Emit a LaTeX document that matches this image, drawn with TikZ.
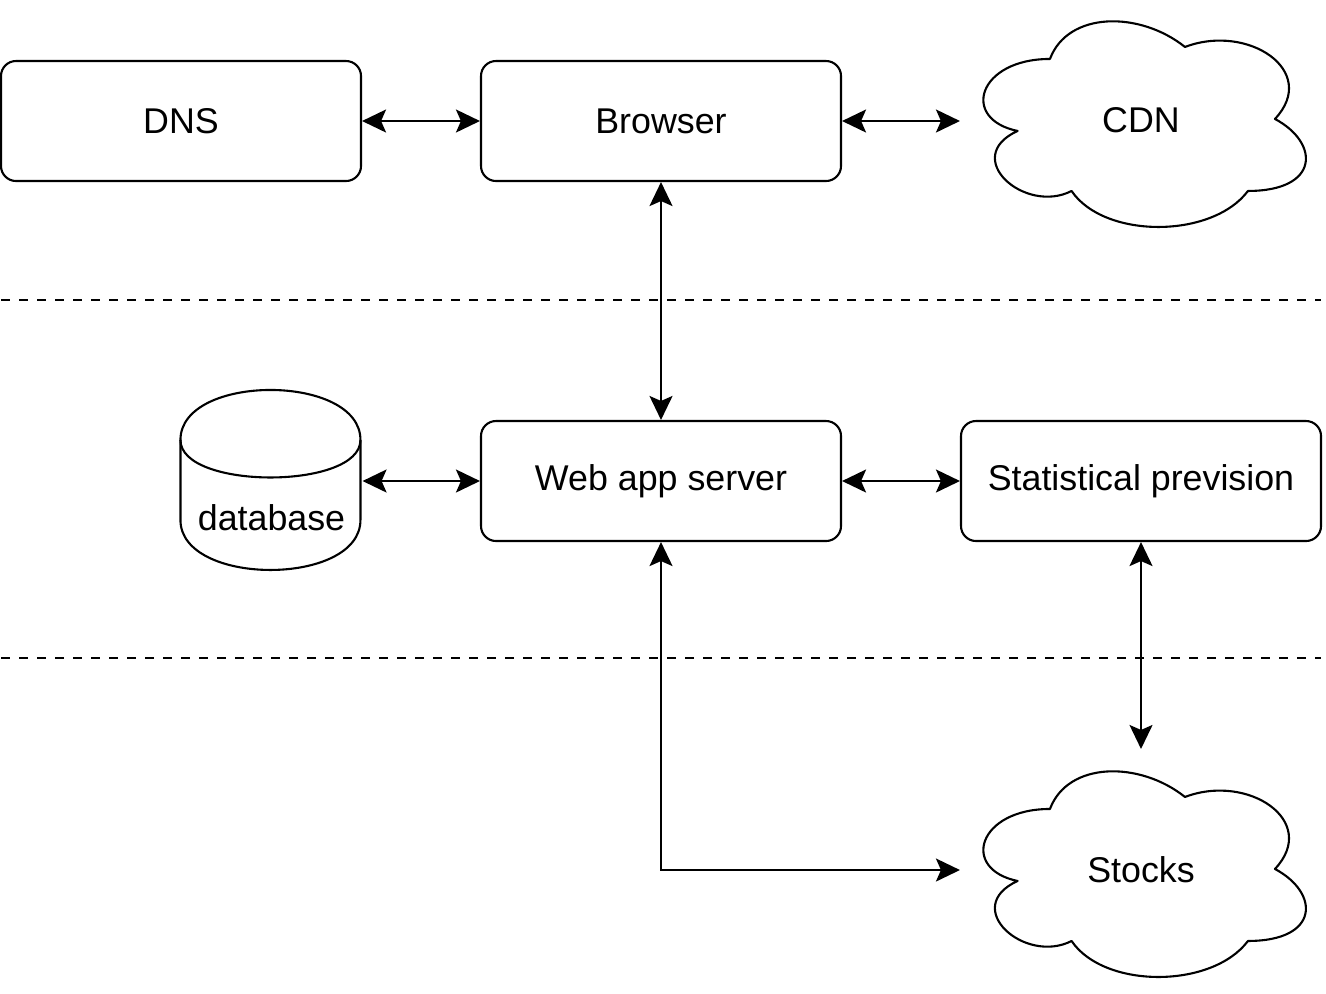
\documentclass[tikz,border=0pt]{standalone}
\usepackage{fontspec}
\setmainfont{Liberation Sans}
\usetikzlibrary{arrows.meta}
\begin{document}
\begin{tikzpicture}[x=0.5pt,y=-0.5pt,
  line width=1.05pt,
  font=\fontsize{17.9}{21}\selectfont,
  box/.style={draw, rounded corners=7.5pt, minimum width=180pt, minimum height=60pt, inner sep=0pt},
  cell/.style={minimum width=180pt, minimum height=120pt, inner sep=0pt},
  link/.style={{Stealth[length=12pt,width=11.5pt,inset=2.5pt]}-{Stealth[length=12pt,width=11.5pt,inset=2.5pt]}},
  sep/.style={dash pattern=on 4.5pt off 4.5pt},
  cloudline/.style={line join=round},
]
\useasboundingbox (0,0) rectangle (1326,993);

% separators
\coordinate (s1a) at (1,300);
\coordinate (s1b) at (1321,300);
\coordinate (s2a) at (1,658);
\coordinate (s2b) at (1321,658);
\draw[sep] (s1a) -- (s1b);
\draw[sep] (s2a) -- (s2b);

% boxes
\node[box] (dns) at (181,121) {DNS};
\node[box] (browser) at (661,121) {Browser};
\node[box] (web) at (661,481) {Web app server};
\node[box] (stat) at (1141,481) {Statistical prevision};

% clouds
\node[cell] (cdn) at (1141,120) {CDN};
\node[cell] (stocks) at (1141,870) {Stocks};
\foreach \c in {cdn,stocks}{
  \begin{scope}[shift={(\c.north west)}, x={(180pt,0)}, y={(0,-120pt)}]
    \draw[cloudline] (0.25,0.25) .. controls (0.05,0.25) and (0,0.5) .. (0.16,0.55)
      .. controls (0,0.66) and (0.18,0.9) .. (0.31,0.8)
      .. controls (0.4,1) and (0.7,1) .. (0.8,0.8)
      .. controls (1,0.8) and (1,0.6) .. (0.875,0.5)
      .. controls (1,0.3) and (0.8,0.1) .. (0.625,0.2)
      .. controls (0.5,0.05) and (0.3,0.05) .. (0.25,0.25) -- cycle;
  \end{scope}
}

% database cylinder
\node[minimum width=90pt, minimum height=90pt, inner sep=0pt] (db) at (271.5,481) {};
\begin{scope}[shift={(db.north west)}, x={(90pt,0)}, y={(0,-90pt)}]
  \def\d{0.2778}
  \draw (0,\d) .. controls (0,-\d/3) and (1,-\d/3) .. (1,\d)
    -- (1,1-\d) .. controls (1,1+\d/3) and (0,1+\d/3) .. (0,1-\d) -- cycle;
  \draw (0,\d) .. controls (0,2*\d) and (1,2*\d) .. (1,\d);
\end{scope}
\node (dblabel) at (271.5,518) {database};

% connectors
\draw[link] (dns.east) -- (browser.west);
\draw[link] (browser.east) -- (browser.east -| cdn.west);
\draw[link] (browser.south) -- (web.north);
\draw[link] (db.east) -- (web.west);
\draw[link] (web.east) -- (stat.west);
\draw[link] (stat.south) -- (stocks.north);
\draw[link] (web.south) |- (stocks.west);
\end{tikzpicture}
\end{document}
